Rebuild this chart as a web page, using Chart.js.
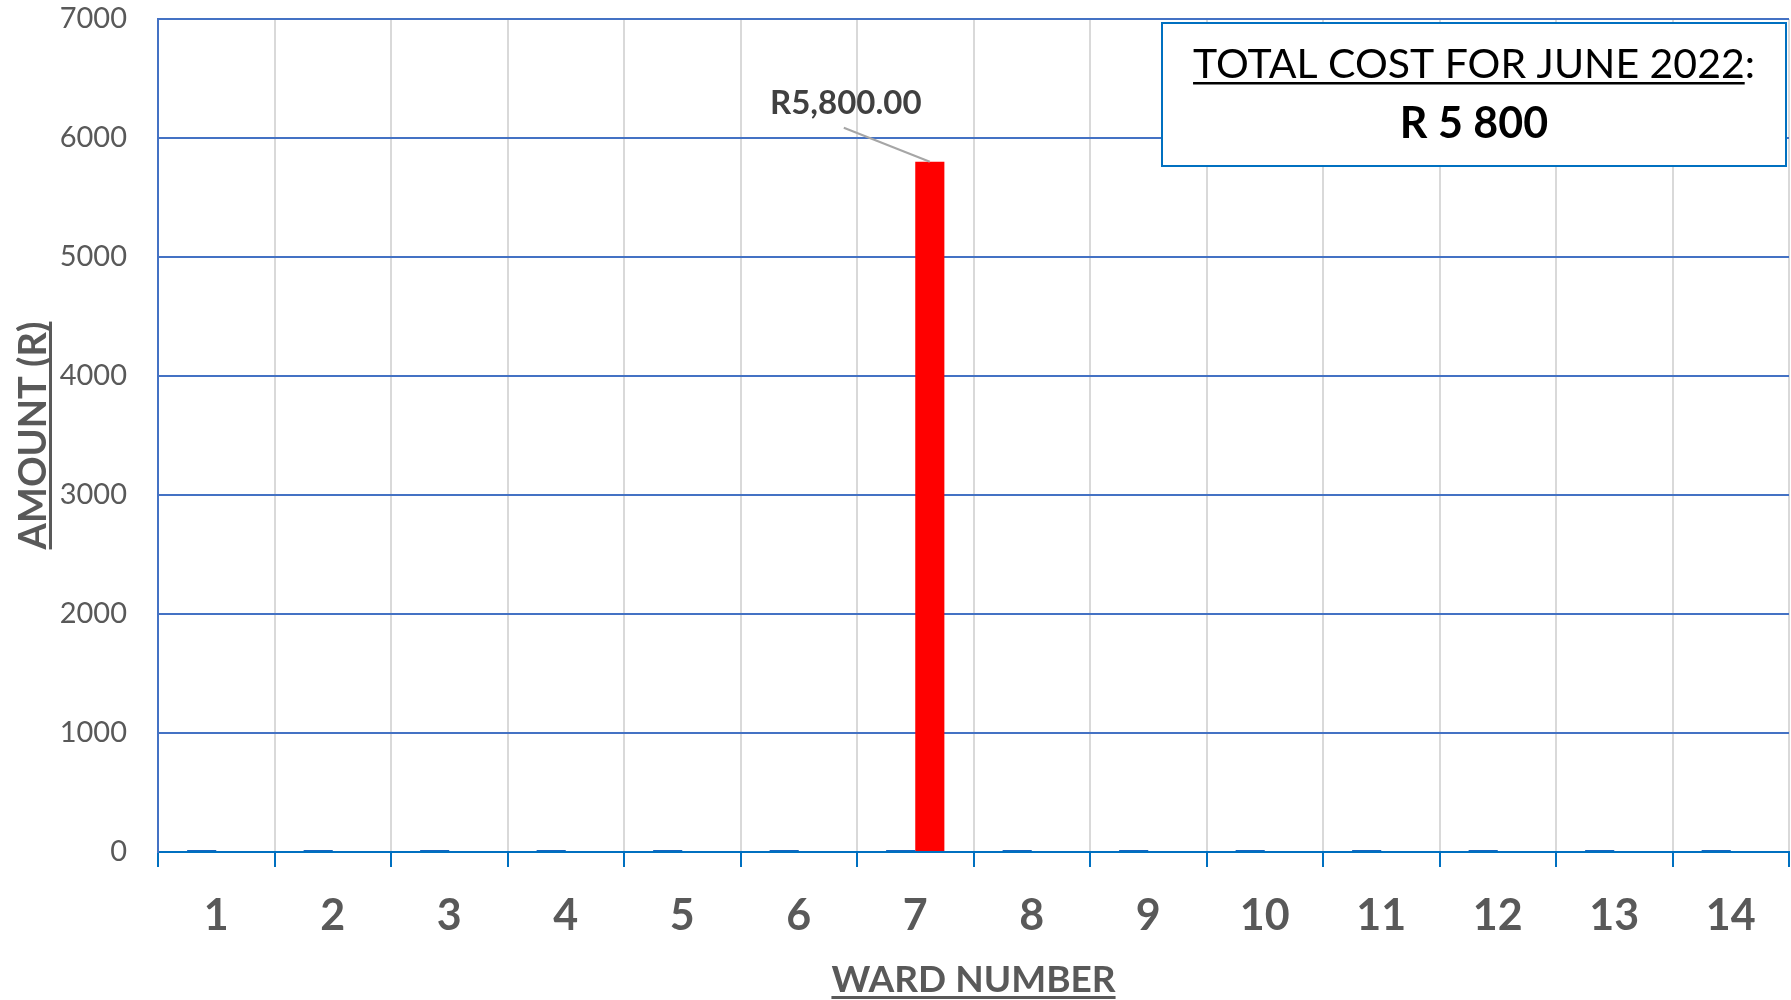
<!DOCTYPE html>
<html><head><meta charset="utf-8">
<script src="https://cdn.jsdelivr.net/npm/chart.js@4/dist/chart.umd.min.js"></script>
<style>html,body{margin:0;padding:0;background:#fff;overflow:hidden}</style>
</head><body>
<canvas id="c" width="1791" height="1000"></canvas>
<script>
const wards = ['1','2','3','4','5','6','7','8','9','10','11','12','13','14'];
const seriesBase = [0,0,0,0,0,0,0,0,0,0,0,0,0,0];
const seriesCost = [0,0,0,0,0,0,5800,0,0,0,0,0,0,0];
const yTickValues = [0,1000,2000,3000,4000,5000,6000,7000];
const costLabels = ['','','','','','','R5,800.00','','','','','','',''];
const boxTitle = 'TOTAL COST FOR JUNE 2022';
const boxValue = 'R 5 800';
const xTitle = 'WARD NUMBER';
const yTitle = 'AMOUNT (R)';

const FONT = 'Lato';

function underlineText(ctx, text, x, y, align, offset, thick) {
  const w = ctx.measureText(text).width;
  let x0 = align === 'center' ? x - w/2 : (align === 'right' ? x - w : x);
  ctx.fillText(text, x, y);
  ctx.fillRect(x0, y + offset, w, thick);
}

const overlay = {
  id: 'overlay',
  afterDatasetsDraw(chart) {
    const ctx = chart.ctx;
    ctx.save();
    // data label with leader line
    const meta = chart.getDatasetMeta(1);
    meta.data.forEach((bar, i) => {
      const lbl = costLabels[i];
      if (!lbl) return;
      ctx.strokeStyle = '#a6a6a6';
      ctx.lineWidth = 2;
      ctx.beginPath();
      ctx.moveTo(bar.x - 86, bar.y - 34);
      ctx.lineTo(bar.x, bar.y);
      ctx.stroke();
      ctx.fillStyle = '#404040';
      ctx.font = 'bold 33px ' + FONT;
      ctx.textAlign = 'center';
      ctx.textBaseline = 'middle';
      ctx.fillText(lbl, bar.x - 84, bar.y - 58);
    });
    // summary box
    const bx = 1162, by = 23, bw = 624, bh = 143;
    ctx.fillStyle = '#ffffff';
    ctx.fillRect(bx, by, bw, bh);
    ctx.strokeStyle = '#0070C0';
    ctx.lineWidth = 2;
    ctx.strokeRect(bx, by, bw, bh);
    ctx.fillStyle = '#000000';
    ctx.font = '41px ' + FONT;
    ctx.textBaseline = 'alphabetic';
    ctx.textAlign = 'left';
    const full = boxTitle + ':';
    const wFull = ctx.measureText(full).width;
    const wMain = ctx.measureText(boxTitle).width;
    const tx = bx + bw/2 - wFull/2;
    ctx.fillText(full, tx, 78);
    ctx.fillRect(tx, 82, wMain, 2.5);
    ctx.font = 'bold 43px ' + FONT;
    ctx.textAlign = 'center';
    ctx.fillText(boxValue, bx + bw/2, 138);
    // x title
    ctx.fillStyle = '#595959';
    ctx.font = 'bold 37px ' + FONT;
    ctx.textAlign = 'center';
    ctx.textBaseline = 'alphabetic';
    const cx = (chart.chartArea.left + chart.chartArea.right) / 2;
    underlineText(ctx, xTitle, cx, 992, 'center', 4, 3);
    // y title
    ctx.translate(32, (chart.chartArea.top + chart.chartArea.bottom) / 2);
    ctx.rotate(-Math.PI/2);
    ctx.font = 'bold 38px ' + FONT;
    underlineText(ctx, yTitle, 0, 14, 'center', 3, 3);
    ctx.restore();
  }
};

new Chart(document.getElementById('c'), {
  type: 'bar',
  data: {
    labels: wards,
    datasets: [
      { label: 'Base', data: seriesBase, backgroundColor: '#1565C0', minBarLength: 2,
        categoryPercentage: 0.5, barPercentage: 1.0 },
      { label: 'Cost', data: seriesCost, backgroundColor: '#FF0000',
        categoryPercentage: 0.5, barPercentage: 1.0 }
    ]
  },
  options: {
    responsive: false,
    animation: false,
    layout: { padding: { top: 19, right: 2, left: 0, bottom: 0 } },
    plugins: { legend: { display: false }, tooltip: { enabled: false } },
    scales: {
      x: {
        grid: { color: '#d9d9d9', lineWidth: 2, tickColor: '#0070C0', tickLength: 15, offset: true },
        border: { color: '#0070C0', width: 2 },
        ticks: { font: { family: FONT, size: 43, weight: 'bold' }, color: '#595959', padding: 23 },
        afterFit(s) { s.height = 148; s.paddingLeft = 0; s.paddingRight = 0; }
      },
      y: {
        min: 0, max: 7000,
        afterBuildTicks(s) { s.ticks = yTickValues.map(v => ({ value: v })); },
        grid: { color: '#4472C4', lineWidth: 2, drawTicks: false },
        border: { color: '#4472C4', width: 2 },
        ticks: { font: { family: FONT, size: 29 }, color: '#595959', padding: 31,
                 callback: v => String(v) },
        afterFit(s) { s.width = 158; s.paddingTop = 0; s.paddingBottom = 0; }
      }
    }
  },
  plugins: [overlay]
});
</script>
</body></html>
